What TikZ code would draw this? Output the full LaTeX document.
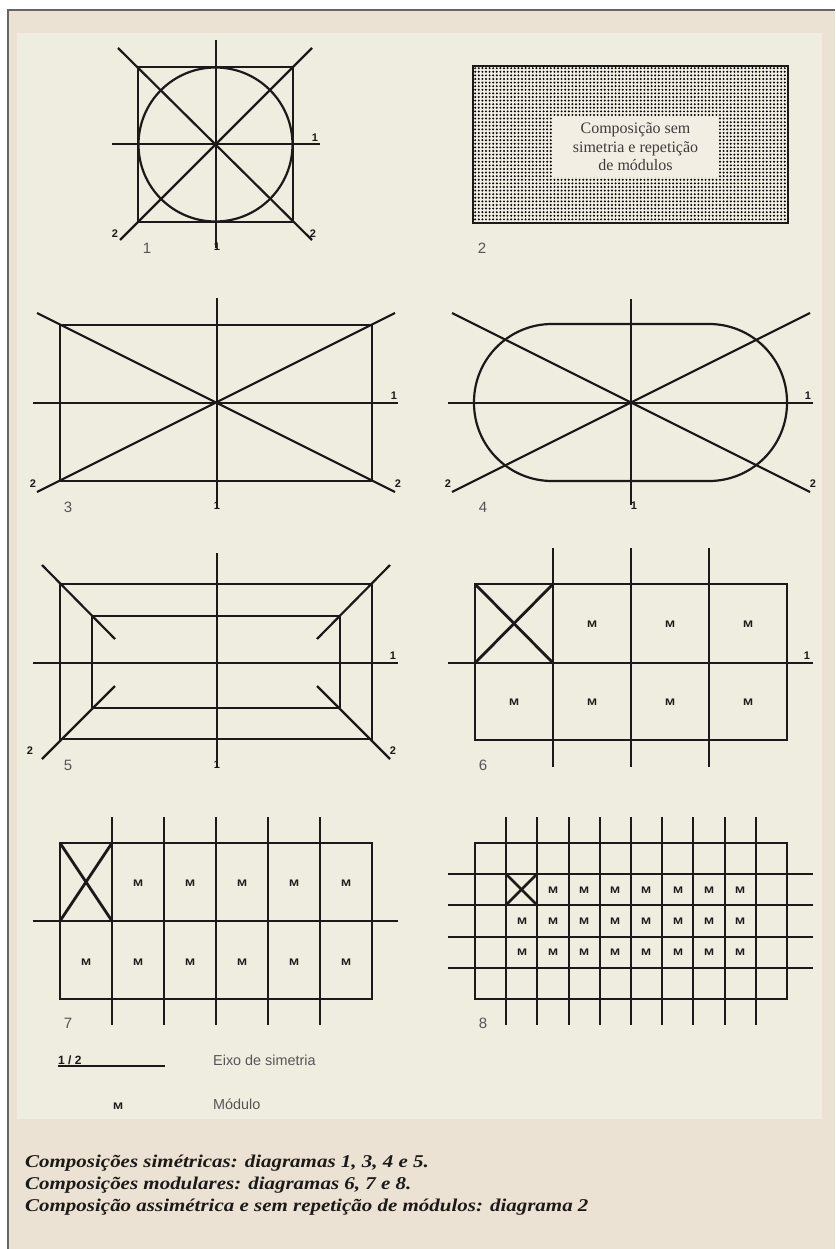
\documentclass[tikz,border=0pt]{standalone}
\usepackage{fontspec}
\setmainfont{Liberation Serif}
\setsansfont{Liberation Sans}
\usetikzlibrary{patterns.meta}
\definecolor{outerbg}{HTML}{ECE2D3}
\definecolor{panel}{HTML}{EFEDE0}
\definecolor{boxbg}{HTML}{F2EEE3}
\definecolor{ink}{HTML}{1C1A18}
\definecolor{numgray}{HTML}{555555}
\definecolor{framegray}{HTML}{666666}
\newcommand{\modM}{\scalebox{1.2}[0.95]{M}}
\begin{document}
\begin{tikzpicture}[x=1pt,y=-1pt,
  ln/.style={line width=2.2pt, draw=ink},
  heavy/.style={line width=2.8pt, draw=ink},
  axlab/.style={font=\sffamily\bfseries\fontsize{11}{11}\selectfont, text=ink, inner sep=0pt},
  dnum/.style={font=\sffamily\fontsize{15}{15}\selectfont, text=numgray, inner sep=0pt},
  modl/.style={font=\sffamily\bfseries\fontsize{10}{10}\selectfont, text=ink, inner sep=0pt},
  legtxt/.style={font=\sffamily\fontsize{14.4}{14.4}\selectfont, text=numgray, inner sep=0pt, anchor=west},
  captxt/.style={font=\bfseries\itshape\fontsize{18}{18}\selectfont, text=ink, inner sep=0pt, anchor=base west},
]
\useasboundingbox (0,0) rectangle (835,1249);
\fill[white] (0,0) rectangle (835,1249);
\fill[outerbg] (8,10) rectangle (835,1249);
\draw[framegray, line width=1.5pt] (8,1249) -- (8,10) -- (835,10);
\fill[panel] (17,33) rectangle (822,1119);

% ---------- Diagram 1
\draw[ln] (138,67) rectangle (293,222);
\draw[ln] (215.5,144.5) circle (77pt);
\draw[ln] (216,40) -- (216,248);
\draw[ln] (112,144) -- (320,144);
\draw[ln] (118,48) -- (312,240);
\draw[ln] (312,48) -- (120,240);
\node[axlab] (d1h) at (315,138) {1};
\node[axlab] (d1a) at (115,234) {2};
\node[axlab] (d1b) at (313,234) {2};
\node[axlab] (d1v) at (217,247) {1};
\node[dnum] (n1) at (147,248) {1};

% ---------- Diagram 2
\fill[boxbg] (473,66) rectangle (788,223);
\fill[pattern={Dots[distance=3.6pt,radius=1.1pt]}, pattern color=black] (473,66) rectangle (788,223);
\draw[line width=2.4pt, draw=ink] (473,66) rectangle (788,223);
\node[fill=boxbg, minimum width=167pt, minimum height=60pt, inner sep=0pt,
      align=center, font=\fontsize{16}{18.5}\selectfont, text=ink!85] (d2box) at (635.5,147)
  {Composição sem\\simetria e repetição\\de módulos};
\node[dnum] (n2) at (482,248) {2};

% ---------- Diagram 3
\draw[ln] (60,325) rectangle (372,481);
\draw[ln] (33,403) -- (398,403);
\draw[ln] (217,298) -- (217,508);
\draw[ln] (37,313) -- (395,492);
\draw[ln] (395,313) -- (37,492);
\node[axlab] (d3h) at (394,396) {1};
\node[axlab] (d3a) at (33,484) {2};
\node[axlab] (d3b) at (398,484) {2};
\node[axlab] (d3v) at (217,506) {1};
\node[dnum] (n3) at (68,507) {3};

% ---------- Diagram 4
\draw[ln, rounded corners=78pt] (474,324) rectangle (787,481);
\draw[ln] (448,403) -- (813,403);
\draw[ln] (631,299) -- (631,505);
\draw[ln] (452,313) -- (810,492);
\draw[ln] (810,313) -- (452,492);
\node[axlab] (d4h) at (808,396) {1};
\node[axlab] (d4a) at (448,484) {2};
\node[axlab] (d4b) at (813,484) {2};
\node[axlab] (d4v) at (634,506) {1};
\node[dnum] (n4) at (483,507) {4};

% ---------- Diagram 5
\draw[ln] (60,584) rectangle (372,739);
\draw[ln] (92,616) rectangle (340,708);
\draw[ln] (33,663) -- (398,663);
\draw[ln] (217,553) -- (217,767);
\draw[ln] (42,565) -- (115,639);
\draw[ln] (390,565) -- (317,639);
\draw[ln] (42,759) -- (115,686);
\draw[ln] (390,759) -- (317,686);
\node[axlab] (d5h) at (393,656) {1};
\node[axlab] (d5a) at (30,751) {2};
\node[axlab] (d5b) at (393,751) {2};
\node[axlab] (d5v) at (217,765) {1};
\node[dnum] (n5) at (68,765) {5};

% ---------- Diagram 6
\draw[ln] (475,584) rectangle (787,740);
\foreach \x in {553,631,709} \draw[ln] (\x,548) -- (\x,767);
\draw[ln] (448,663) -- (813,663);
\draw[heavy] (475,584) -- (553,663);
\draw[heavy] (553,584) -- (475,663);
\node[axlab] (d6h) at (807,656) {1};
\foreach \x/\y [count=\i] in {592/624,670/624,748/624,514/702,592/702,670/702,748/702}
  \node[modl] (m6-\i) at (\x,\y) {\modM};
\node[dnum] (n6) at (483,765) {6};

% ---------- Diagram 7
\draw[ln] (60,843) rectangle (372,999);
\foreach \x in {112,164,216,268,320} \draw[ln] (\x,817) -- (\x,1025);
\draw[ln] (33,921) -- (398,921);
\draw[heavy] (60,843) -- (112,921);
\draw[heavy] (112,843) -- (60,921);
\foreach \x [count=\i] in {138,190,242,294,346}
  \node[modl] (m7a-\i) at (\x,883) {\modM};
\foreach \x [count=\i] in {86,138,190,242,294,346}
  \node[modl] (m7b-\i) at (\x,962) {\modM};
\node[dnum] (n7) at (68,1023) {7};

% ---------- Diagram 8
\draw[ln] (475,843) rectangle (787,999);
\foreach \x in {506,537,569,600,631,662,693,725,756} \draw[ln] (\x,817) -- (\x,1025);
\foreach \y in {874,905,937,968} \draw[ln] (448,\y) -- (813,\y);
\draw[heavy] (506,874) -- (537,905);
\draw[heavy] (537,874) -- (506,905);
\foreach \x [count=\i] in {553,584,615,646,678,709,740}
  \node[modl] (m8a-\i) at (\x,890) {\modM};
\foreach \x [count=\i] in {522,553,584,615,646,678,709,740}
  \node[modl] (m8b-\i) at (\x,921) {\modM};
\foreach \x [count=\i] in {522,553,584,615,646,678,709,740}
  \node[modl] (m8c-\i) at (\x,952.5) {\modM};
\node[dnum] (n8) at (483,1023) {8};

% ---------- Legend
\node[axlab, anchor=base west, font=\sffamily\bfseries\fontsize{12}{12}\selectfont] (leg12) at (58,1064) {1 / 2};
\draw[line width=1.6pt, draw=ink] (58,1066) -- (165,1066);
\node[legtxt] (legE) at (213,1060) {Eixo de simetria};
\node[modl] (legM) at (118,1106) {\modM};
\node[legtxt] (legMod) at (213,1104) {Módulo};

% ---------- Caption
\node[captxt] (cap1) at (25,1167) {\scalebox{1.165}[1]{Composições simétricas: diagramas 1, 3, 4 e 5.}};
\node[captxt] (cap2) at (25,1189) {\scalebox{1.165}[1]{Composições modulares: diagramas 6, 7 e 8.}};
\node[captxt] (cap3) at (25,1211) {\scalebox{1.165}[1]{Composição assimétrica e sem repetição de módulos: diagrama 2}};
\end{tikzpicture}
\end{document}
